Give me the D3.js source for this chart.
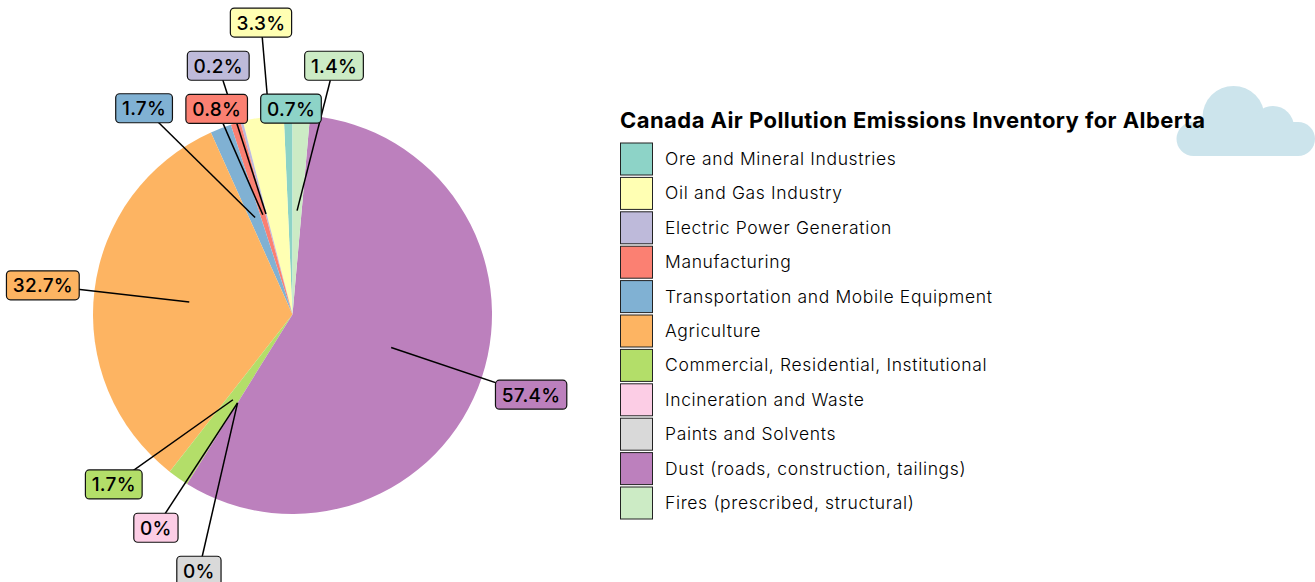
<!DOCTYPE html>
<html><head><meta charset="utf-8">
<script src="https://cdn.jsdelivr.net/npm/d3@7/dist/d3.min.js"></script>
<style>
html,body{margin:0;padding:0;background:#fff;overflow:hidden}
svg{display:block}
text{font-family:Inter,"Open Sans",sans-serif;fill:#000}
</style></head><body>
<div id="chart"></div>
<script>
const title = "Canada Air Pollution Emissions Inventory for Alberta";
const categories = ["Ore and Mineral Industries","Oil and Gas Industry","Electric Power Generation","Manufacturing","Transportation and Mobile Equipment","Agriculture","Commercial, Residential, Institutional","Incineration and Waste","Paints and Solvents","Dust (roads, construction, tailings)","Fires (prescribed, structural)"];
const values = [0.7,3.3,0.2,0.8,1.7,32.7,1.7,0,0,57.4,1.4];
const colors = ["#8dd3c7","#ffffb3","#bebada","#fb8072","#80b1d3","#fdb462","#b3de69","#fccde5","#d9d9d9","#bc80bd","#ccebc5"];
// layout only: how far each label was dodged from its radial position, and how much of each leader is drawn
const labelNudges = [[4,44],[5.3,-44.7],[-10.5,-7],[-4.5,34],[-58.5,27],[-1.5,1],[-35.5,-35],[-4.5,1],[38.5,44],[1.5,1],[30.5,1]];
const leaderReach = [0,0.41,1,1,1,1,1,1,1,1,1];

const W=1315,H=582,cx=292.5,cy=314.5,R=199.5;
const svg=d3.select("#chart").append("svg").attr("width",W).attr("height",H);

// cloud
const cloud=svg.append("g").attr("fill","#cce4ec");
[[1233.5,117,31],[1273,127,21]].forEach(c=>cloud.append("circle").attr("cx",c[0]).attr("cy",c[1]).attr("r",c[2]));
cloud.append("rect").attr("x",1176.5).attr("y",122).attr("width",138.5).attr("height",34).attr("rx",17);

const color=d3.scaleOrdinal(categories,colors);
const pie=d3.pie().sort(null).startAngle(0).endAngle(-2*Math.PI).value(d=>d.value);
const rows=categories.map((c,i)=>({name:c,value:values[i],i}));
const arcs=pie(rows);
const arc=d3.arc().innerRadius(0).outerRadius(R);
const g=svg.append("g").attr("transform",`translate(${cx},${cy})`);
g.selectAll("path").data(arcs).join("path").attr("d",arc).attr("fill",d=>color(d.data.name));

const innerArc=d3.arc().innerRadius(104).outerRadius(104);
const outerArc=d3.arc().innerRadius(250).outerRadius(250);
const labelPos=d=>{const p=outerArc.centroid(d),n=labelNudges[d.data.i];return [p[0]+n[0],p[1]+n[1]];};

g.selectAll("line").data(arcs).join("line")
 .attr("x1",d=>labelPos(d)[0]).attr("y1",d=>labelPos(d)[1])
 .attr("x2",d=>{const a=labelPos(d),b=innerArc.centroid(d),k=leaderReach[d.data.i];return a[0]+(b[0]-a[0])*k;})
 .attr("y2",d=>{const a=labelPos(d),b=innerArc.centroid(d),k=leaderReach[d.data.i];return a[1]+(b[1]-a[1])*k;})
 .attr("stroke","#000").attr("stroke-width",1.5);

const labels=g.selectAll("g.lab").data(arcs).join("g").attr("class","lab")
 .attr("transform",d=>`translate(${labelPos(d)})`);
labels.append("rect").attr("stroke","#111").attr("stroke-width",1.2).attr("rx",4)
 .attr("fill",d=>color(d.data.name));
labels.append("text").attr("text-anchor","middle").attr("y",7)
 .style("font-size","19px").style("font-weight",500).style("letter-spacing","0.3px")
 .text(d=>d.data.value+"%");
labels.each(function(){
  const s=d3.select(this),w=s.select("text").node().getComputedTextLength()+12.5;
  s.select("rect").attr("x",-w/2).attr("y",-14.5).attr("width",w).attr("height",29);
});

// legend
svg.append("text").attr("x",620).attr("y",128).style("font-size","22px").style("font-weight",700)
 .style("letter-spacing","0.45px").text(title);
const y=d3.scalePoint().domain(categories).range([159,503]);
const leg=svg.selectAll("g.leg").data(categories).join("g").attr("class","leg")
 .attr("transform",d=>`translate(620,${y(d)})`);
leg.append("rect").attr("x",0.5).attr("y",-16).attr("width",32).attr("height",32)
 .attr("fill",d=>color(d)).attr("stroke","#222");
leg.append("text").attr("x",45).attr("y",6).style("font-size","17.5px").style("font-weight",300)
 .style("letter-spacing","0.65px").text(d=>d);
</script></body></html>
